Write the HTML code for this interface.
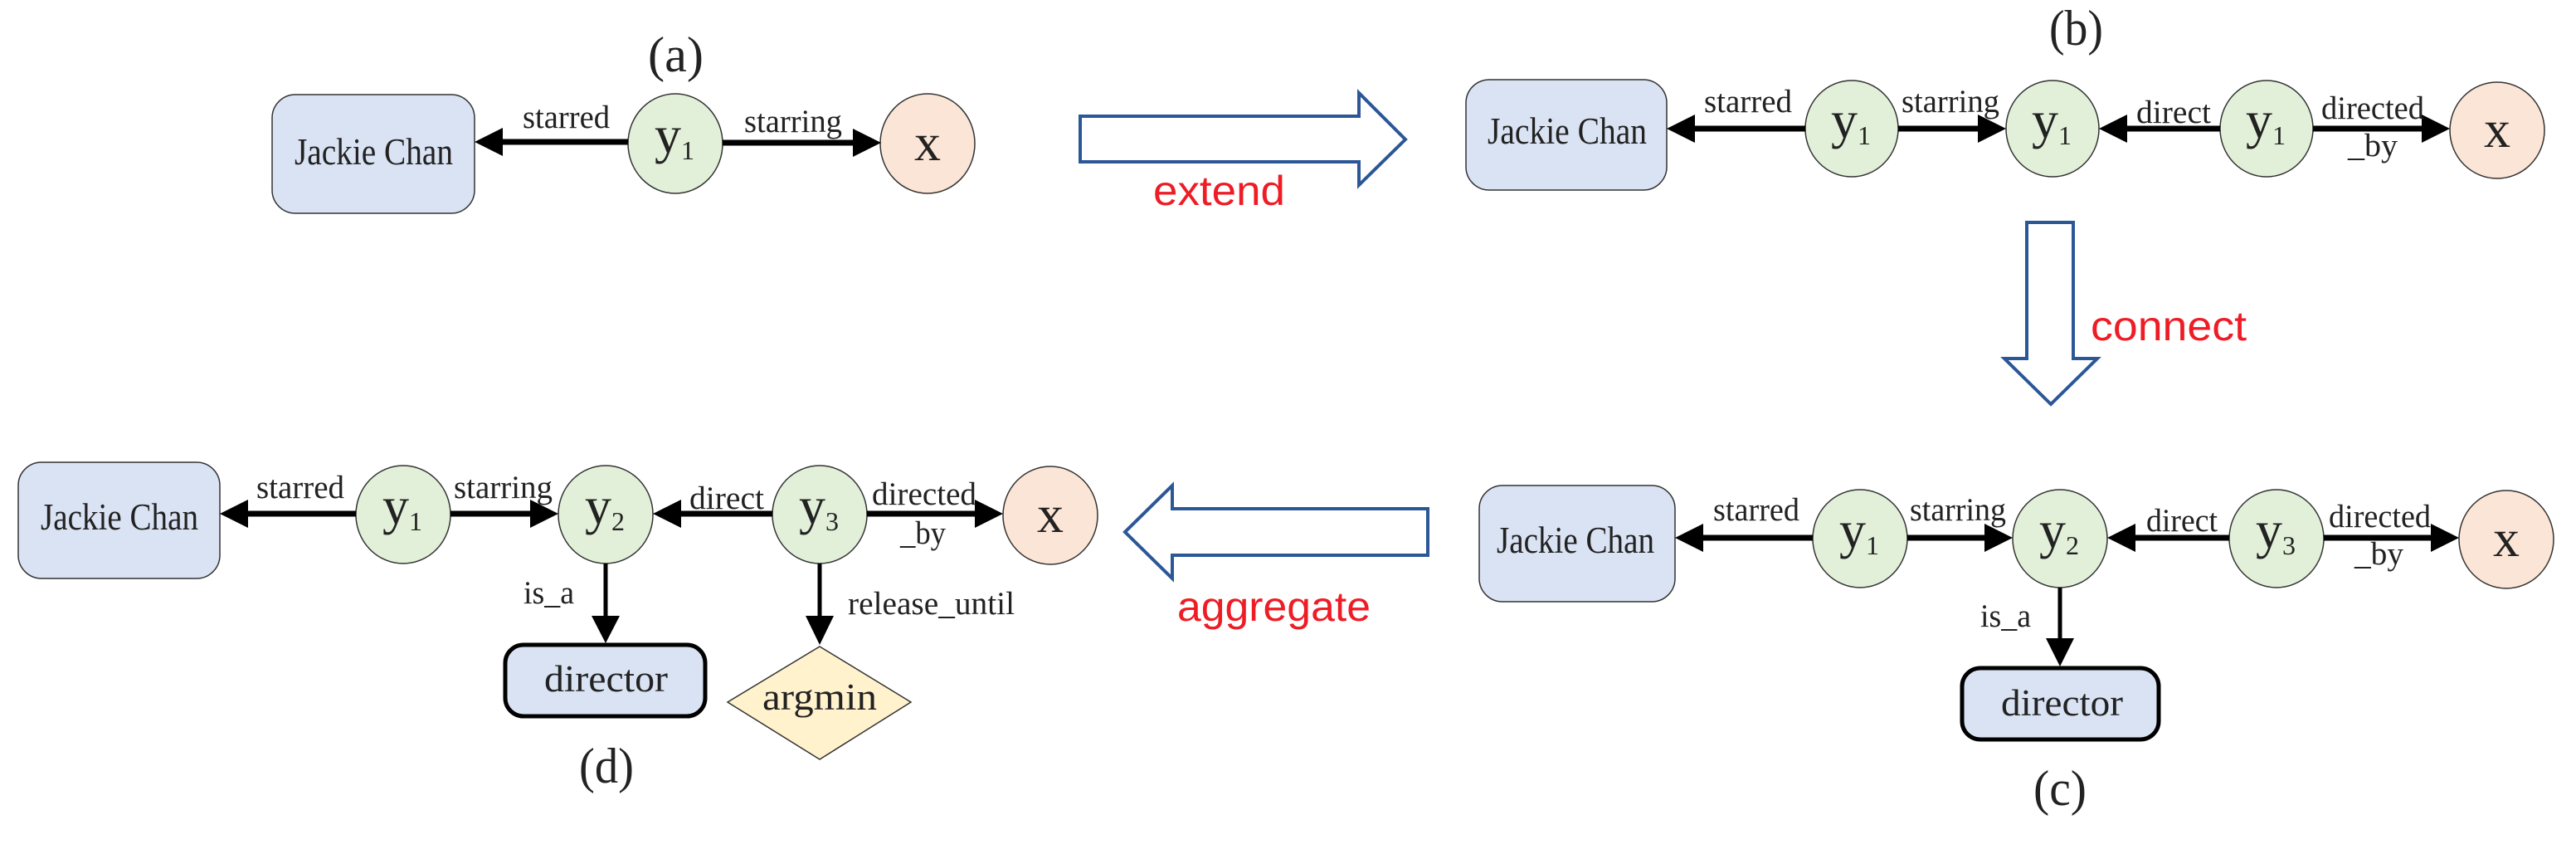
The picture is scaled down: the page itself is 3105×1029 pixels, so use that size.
<!DOCTYPE html>
<html><head><meta charset="utf-8"><style>html,body{margin:0;padding:0;background:#fff}svg{display:block}</style></head>
<body>
<svg width="3105" height="1029" viewBox="0 0 3105 1029" xmlns="http://www.w3.org/2000/svg" font-family="Liberation Serif, serif" fill="#222">
<g stroke="#333" stroke-width="1.5">
<rect x="328" y="114" width="244" height="143" rx="28" fill="#dae3f3"/>
<ellipse cx="814" cy="173" rx="57" ry="60" fill="#e2f0d9"/>
<ellipse cx="1118" cy="173" rx="57" ry="60" fill="#fbe5d6"/>
<rect x="1767" y="96" width="242" height="133" rx="28" fill="#dae3f3"/>
<ellipse cx="2232" cy="155" rx="56" ry="58" fill="#e2f0d9"/>
<ellipse cx="2474" cy="155" rx="56" ry="58" fill="#e2f0d9"/>
<ellipse cx="2732" cy="155" rx="56" ry="58" fill="#e2f0d9"/>
<ellipse cx="3010" cy="157" rx="57" ry="58" fill="#fbe5d6"/>
<rect x="1783" y="585" width="236" height="140" rx="28" fill="#dae3f3"/>
<ellipse cx="2242" cy="649" rx="57" ry="59" fill="#e2f0d9"/>
<ellipse cx="2483" cy="649" rx="57" ry="59" fill="#e2f0d9"/>
<ellipse cx="2744" cy="649" rx="57" ry="59" fill="#e2f0d9"/>
<ellipse cx="3021" cy="650" rx="57" ry="59" fill="#fbe5d6"/>
<rect x="22" y="557" width="243" height="140" rx="28" fill="#dae3f3"/>
<ellipse cx="486" cy="620" rx="57" ry="59" fill="#e2f0d9"/>
<ellipse cx="730" cy="620" rx="57" ry="59" fill="#e2f0d9"/>
<ellipse cx="988" cy="620" rx="57" ry="59" fill="#e2f0d9"/>
<ellipse cx="1266" cy="621" rx="57" ry="59" fill="#fbe5d6"/>
<polygon points="988,779 1098,846 988,915 877,846" fill="#fff2cc"/>
</g>
<g stroke="#000" stroke-width="5" fill="#dae3f3">
<rect x="2365" y="805" width="237" height="86" rx="22"/>
<rect x="609" y="777" width="241" height="86" rx="22"/>
</g>
<g stroke="#000" stroke-width="7">
<line x1="757" y1="171" x2="600" y2="171"/><line x1="871" y1="172" x2="1034" y2="172"/>
<line x1="2176" y1="155" x2="2037" y2="155"/><line x1="2288" y1="155" x2="2390" y2="155"/>
<line x1="2676" y1="155" x2="2558" y2="155"/><line x1="2788" y1="155" x2="2925" y2="155"/>
<line x1="2185" y1="648" x2="2047" y2="648"/><line x1="2299" y1="648" x2="2398" y2="648"/>
<line x1="2687" y1="648" x2="2568" y2="648"/><line x1="2801" y1="648" x2="2936" y2="648"/>
<line x1="429" y1="619" x2="293" y2="619"/><line x1="543" y1="619" x2="645" y2="619"/>
<line x1="931" y1="619" x2="815" y2="619"/><line x1="1045" y1="619" x2="1181" y2="619"/>
</g>
<g stroke="#000" stroke-width="5">
<line x1="2483" y1="708" x2="2483" y2="775"/>
<line x1="730" y1="679" x2="730" y2="748"/>
<line x1="988" y1="679" x2="988" y2="748"/>
</g>
<g fill="#000">
<polygon points="572,171 606,154 606,188"/><polygon points="1062,172 1028,155 1028,189"/>
<polygon points="2009,155 2043,138 2043,172"/><polygon points="2418,155 2384,138 2384,172"/>
<polygon points="2530,155 2564,138 2564,172"/><polygon points="2953,155 2919,138 2919,172"/>
<polygon points="2019,648 2053,631 2053,665"/><polygon points="2426,648 2392,631 2392,665"/>
<polygon points="2540,648 2574,631 2574,665"/><polygon points="2964,648 2930,631 2930,665"/>
<polygon points="265,619 299,602 299,636"/><polygon points="673,619 639,602 639,636"/>
<polygon points="787,619 821,602 821,636"/><polygon points="1209,619 1175,602 1175,636"/>
<polygon points="2483,803 2466,769 2500,769"/>
<polygon points="730,775 713,742 747,742"/>
<polygon points="988,777 971,742 1005,742"/>
</g>
<g fill="#fff" stroke="#2b5797" stroke-width="4" stroke-linejoin="miter">
<polygon points="1302,140 1638,140 1638,112 1694,168 1638,223 1638,195 1302,195"/>
<polygon points="1721,613 1413,613 1413,585 1356,641 1413,697 1413,669 1721,669"/>
<polygon points="2443,268 2499,268 2499,432 2528,432 2472,487 2416,432 2443,432"/>
</g>
<g fill="#ee1c25" font-family="Liberation Sans, sans-serif" font-size="50">
<text x="1390" y="247" textLength="159" lengthAdjust="spacingAndGlyphs">extend</text>
<text x="1419" y="748" textLength="233" lengthAdjust="spacingAndGlyphs">aggregate</text>
<text x="2520" y="410" textLength="188" lengthAdjust="spacingAndGlyphs">connect</text>
</g>
<g font-size="60">
<text x="781" y="86" textLength="67" lengthAdjust="spacingAndGlyphs">(a)</text>
<text x="2470" y="54" textLength="65" lengthAdjust="spacingAndGlyphs">(b)</text>
<text x="2451" y="970" textLength="64" lengthAdjust="spacingAndGlyphs">(c)</text>
<text x="698" y="943" textLength="66" lengthAdjust="spacingAndGlyphs">(d)</text>
</g>
<g font-size="45">
<text x="355" y="198" textLength="191" lengthAdjust="spacingAndGlyphs">Jackie Chan</text>
<text x="1793" y="173" textLength="192" lengthAdjust="spacingAndGlyphs">Jackie Chan</text>
<text x="1804" y="666" textLength="190" lengthAdjust="spacingAndGlyphs">Jackie Chan</text>
<text x="49" y="638" textLength="190" lengthAdjust="spacingAndGlyphs">Jackie Chan</text>
<text x="2412" y="862" textLength="147" lengthAdjust="spacingAndGlyphs">director</text>
<text x="656" y="833" textLength="149" lengthAdjust="spacingAndGlyphs">director</text>
<text x="919" y="855" textLength="138" lengthAdjust="spacingAndGlyphs">argmin</text>
</g>
<g font-size="39">
<text x="630" y="154" textLength="105" lengthAdjust="spacingAndGlyphs">starred</text>
<text x="897" y="159" textLength="118" lengthAdjust="spacingAndGlyphs">starring</text>
<text x="2054" y="135" textLength="106" lengthAdjust="spacingAndGlyphs">starred</text>
<text x="2292" y="135" textLength="118" lengthAdjust="spacingAndGlyphs">starring</text>
<text x="2575" y="148" textLength="90" lengthAdjust="spacingAndGlyphs">direct</text>
<text x="2798" y="143" textLength="124" lengthAdjust="spacingAndGlyphs">directed</text>
<text x="2830" y="188" textLength="60" lengthAdjust="spacingAndGlyphs">_by</text>
<text x="2065" y="627" textLength="104" lengthAdjust="spacingAndGlyphs">starred</text>
<text x="2302" y="627" textLength="116" lengthAdjust="spacingAndGlyphs">starring</text>
<text x="2587" y="640" textLength="86" lengthAdjust="spacingAndGlyphs">direct</text>
<text x="2807" y="635" textLength="123" lengthAdjust="spacingAndGlyphs">directed</text>
<text x="2838" y="680" textLength="59" lengthAdjust="spacingAndGlyphs">_by</text>
<text x="2387" y="755" textLength="61" lengthAdjust="spacingAndGlyphs">is_a</text>
<text x="309" y="600" textLength="106" lengthAdjust="spacingAndGlyphs">starred</text>
<text x="547" y="600" textLength="119" lengthAdjust="spacingAndGlyphs">starring</text>
<text x="831" y="613" textLength="90" lengthAdjust="spacingAndGlyphs">direct</text>
<text x="1051" y="608" textLength="126" lengthAdjust="spacingAndGlyphs">directed</text>
<text x="1085" y="655" textLength="55" lengthAdjust="spacingAndGlyphs">_by</text>
<text x="631" y="727" textLength="61" lengthAdjust="spacingAndGlyphs">is_a</text>
<text x="1022" y="740" textLength="201" lengthAdjust="spacingAndGlyphs">release_until</text>
</g>
<g font-size="64">
<text x="789" y="184">y<tspan font-size="32" dy="8">1</tspan></text>
<text x="1102" y="193">x</text>
<text x="2207" y="166">y<tspan font-size="32" dy="8">1</tspan></text>
<text x="2449" y="166">y<tspan font-size="32" dy="8">1</tspan></text>
<text x="2707" y="166">y<tspan font-size="32" dy="8">1</tspan></text>
<text x="2994" y="177">x</text>
<text x="2217" y="660">y<tspan font-size="32" dy="8">1</tspan></text>
<text x="2458" y="660">y<tspan font-size="32" dy="8">2</tspan></text>
<text x="2719" y="660">y<tspan font-size="32" dy="8">3</tspan></text>
<text x="3005" y="670">x</text>
<text x="461" y="631">y<tspan font-size="32" dy="8">1</tspan></text>
<text x="705" y="631">y<tspan font-size="32" dy="8">2</tspan></text>
<text x="963" y="631">y<tspan font-size="32" dy="8">3</tspan></text>
<text x="1250" y="641">x</text>
</g>
</svg>
</body></html>
